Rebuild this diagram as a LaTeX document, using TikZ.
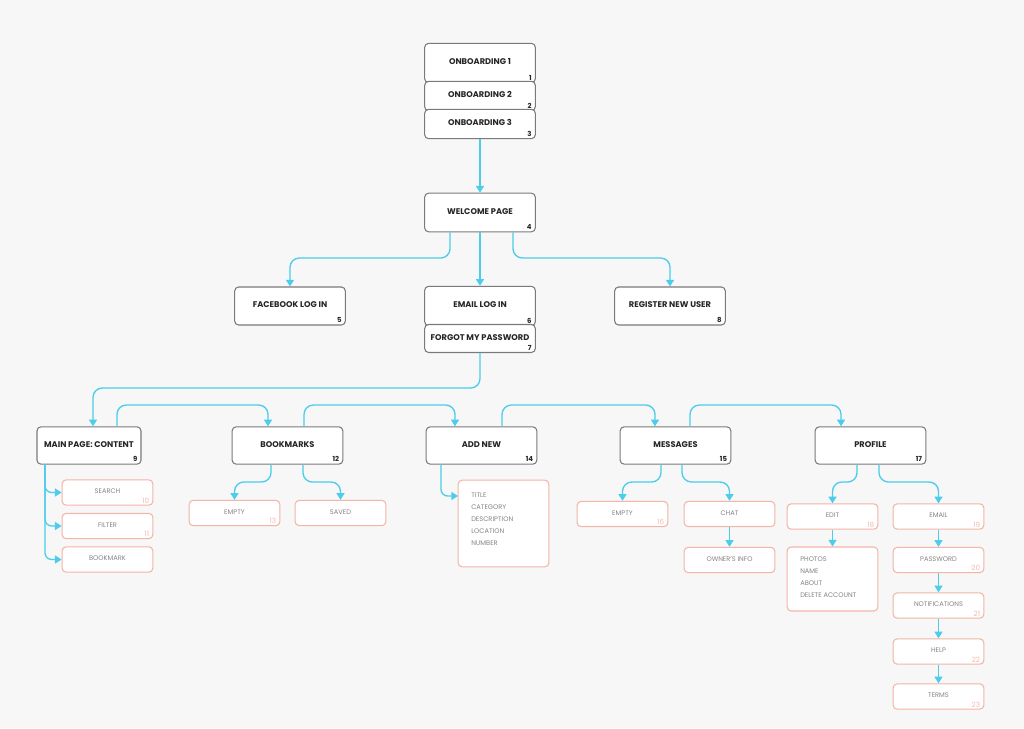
\documentclass[tikz,border=0pt]{standalone}
\usepackage{fontspec}
\setmainfont{Poppins}
\usetikzlibrary{arrows.meta}
\definecolor{bg}{HTML}{F7F7F7}
\definecolor{flow}{HTML}{4CCDEB}
\definecolor{frame}{HTML}{7A7A7A}
\definecolor{peach}{HTML}{F4B4A6}
\definecolor{sub}{HTML}{858585}
\definecolor{subnum}{HTML}{F2B9AE}

% screen box: name, position, height, title, number
\newcommand\scrbox[5]{%
  \node[scr,minimum height=#3] (#1) at #2 {};
  \node[ttl] (#1t) at ([yshift=1pt]#1.center) {#4};
  \node[num] (#1n) at ([xshift=-3pt,yshift=2pt]#1.south east) {#5};}
% sub box: name, position, title, number
\newcommand\subbox[4]{%
  \node[subscr] (#1) at #2 {};
  \node[subttl] (#1t) at ([yshift=1pt]#1.center) {#3};
  \node[subnum] (#1n) at ([xshift=-3pt,yshift=1.5pt]#1.south east) {#4};}

\begin{document}
\begin{tikzpicture}[x=0.75pt,y=-0.75pt,>={Triangle[width=6pt,length=5pt]}]
  \tikzset{scr/.style={draw=frame,fill=white,rounded corners=3pt,line width=0.8pt,minimum width=83pt,inner sep=0pt},
    ttl/.style={font=\fontsize{6.2}{7}\selectfont\bfseries,text=black!85,inner sep=0pt},
    num/.style={font=\fontsize{5.2}{6}\selectfont\bfseries,text=black!85,anchor=south east,inner sep=0pt},
    subscr/.style={draw=peach,fill=white,rounded corners=3pt,line width=0.8pt,minimum width=68pt,minimum height=19pt,inner sep=0pt},
    subttl/.style={font=\fontsize{5}{6}\selectfont,text=sub,inner sep=0pt},
    subnum/.style={font=\fontsize{5.4}{6}\selectfont,text=subnum,anchor=south east,inner sep=0pt},
    listbox/.style={draw=peach,fill=white,rounded corners=3pt,line width=0.8pt,minimum width=68pt,inner sep=0pt},
    listtxt/.style={font=\fontsize{5}{9}\selectfont,text=sub,align=left,anchor=north west,inner sep=0pt},
    link/.style={draw=flow,line width=1pt,rounded corners=7pt,->}}
  \fill[bg] (0,0) rectangle (1024,728);

  % onboarding
  \scrbox{ob1}{(480,63)}{29.5pt}{ONBOARDING 1}{1}
  \scrbox{ob2}{(480,96)}{22pt}{ONBOARDING 2}{2}
  \scrbox{ob3}{(480,124)}{22pt}{ONBOARDING 3}{3}
  \scrbox{wel}{(480,212.5)}{29pt}{WELCOME PAGE}{4}
  \scrbox{fb}{(290,306)}{28.5pt}{FACEBOOK LOG IN}{5}
  \scrbox{mail}{(480,306)}{29.5pt}{EMAIL LOG IN}{6}
  \scrbox{pw}{(480,338.5)}{21pt}{FORGOT MY PASSWORD}{7}
  \scrbox{reg}{(670,306)}{28.5pt}{REGISTER NEW USER}{8}

  % main sections
  \node[scr,minimum width=78pt,minimum height=28pt] (main) at (89,445.5) {};
  \node[ttl] (maint) at ([yshift=1pt]main.center) {MAIN PAGE: CONTENT};
  \node[num] (mainn) at ([xshift=-3pt,yshift=2pt]main.south east) {9};
  \scrbox{bm}{(287.5,445.5)}{28pt}{BOOKMARKS}{12}
  \scrbox{add}{(481.5,445.5)}{28pt}{ADD NEW}{14}
  \scrbox{msg}{(675.5,445.5)}{28pt}{MESSAGES}{15}
  \scrbox{prof}{(870.5,445.5)}{28pt}{PROFILE}{17}

  % sub screens
  \subbox{search}{(107.5,492.5)}{SEARCH}{10}
  \subbox{filter}{(107.5,526)}{FILTER}{11}
  \subbox{mark}{(107.5,559.5)}{BOOKMARK}{}
  \subbox{bmempty}{(234.5,513)}{EMPTY}{13}
  \subbox{saved}{(340.5,513)}{SAVED}{}
  \node[listbox,minimum height=65pt] (addlist) at (503.5,523.5) {};
  \node[listtxt] (addtxt) at (471,493) {TITLE\\CATEGORY\\DESCRIPTION\\LOCATION\\NUMBER};
  \subbox{msgempty}{(622.5,514)}{EMPTY}{16}
  \subbox{chat}{(729.5,514)}{CHAT}{}
  \subbox{owner}{(729.5,560)}{OWNER'S INFO}{}
  \subbox{edit}{(832.5,516.5)}{EDIT}{18}
  \node[listbox,minimum height=48pt] (editlist) at (832.5,579) {};
  \node[listtxt] (edittxt) at (800,557) {PHOTOS\\NAME\\ABOUT\\DELETE ACCOUNT};
  \subbox{email}{(938.5,516.5)}{EMAIL}{19}
  \subbox{pass}{(938.5,560)}{PASSWORD}{20}
  \subbox{notif}{(938.5,605.5)}{NOTIFICATIONS}{21}
  \subbox{help}{(938.5,651.5)}{HELP}{22}
  \subbox{terms}{(938.5,696.5)}{TERMS}{23}

  % connectors
  \draw[link] (ob3.south) -- (wel.north);
  \draw[link] ([xshift=-22.5pt]wel.south) |- (290,258) -- (fb.north);
  \draw[link] (wel.south) -- (mail.north);
  \draw[link] ([xshift=24.75pt]wel.south) |- (670,258) -- (reg.north);
  \draw[link] (pw.south) |- (93,388) -- ([xshift=3pt]main.north);
  \draw[link] ([xshift=21pt]main.north) |- (268,405) -- ([xshift=-14.6pt]bm.north);
  \draw[link] ([xshift=12.4pt]bm.north) |- (455,405) -- ([xshift=-19.9pt]add.north);
  \draw[link] ([xshift=15.4pt]add.north) |- (655,405) -- ([xshift=-15.4pt]msg.north);
  \draw[link] ([xshift=10.9pt]msg.north) |- (841,405) -- ([xshift=-22.1pt]prof.north);
  \draw[link,rounded corners=5pt] ([xshift=-33pt]main.south) |- (search.west);
  \draw[link,rounded corners=5pt] ([xshift=-33pt]main.south) |- (filter.west);
  \draw[link,rounded corners=5pt] ([xshift=-33pt]main.south) |- (mark.west);
  \draw[link] ([xshift=-12.4pt]bm.south) |- (234.5,482) -- (bmempty.north);
  \draw[link] ([xshift=11.6pt]bm.south) |- (340.5,482) -- (saved.north);
  \draw[link,rounded corners=5pt] ([xshift=-30.4pt]add.south) |- (458,496);
  \draw[link] ([xshift=-10.9pt]msg.south) |- (622.5,482) -- (msgempty.north);
  \draw[link] ([xshift=4.9pt]msg.south) |- (729.5,482) -- (chat.north);
  \draw[link] (chat.south) -- (owner.north);
  \draw[link] ([xshift=-10.1pt]prof.south) |- (832.5,482) -- (edit.north);
  \draw[link] ([xshift=6.4pt]prof.south) |- (938.5,482) -- (email.north);
  \draw[link] (edit.south) -- (editlist.north);
  \draw[link] (email.south) -- (pass.north);
  \draw[link] (pass.south) -- (notif.north);
  \draw[link] (notif.south) -- (help.north);
  \draw[link] (help.south) -- (terms.north);
\end{tikzpicture}
\end{document}
